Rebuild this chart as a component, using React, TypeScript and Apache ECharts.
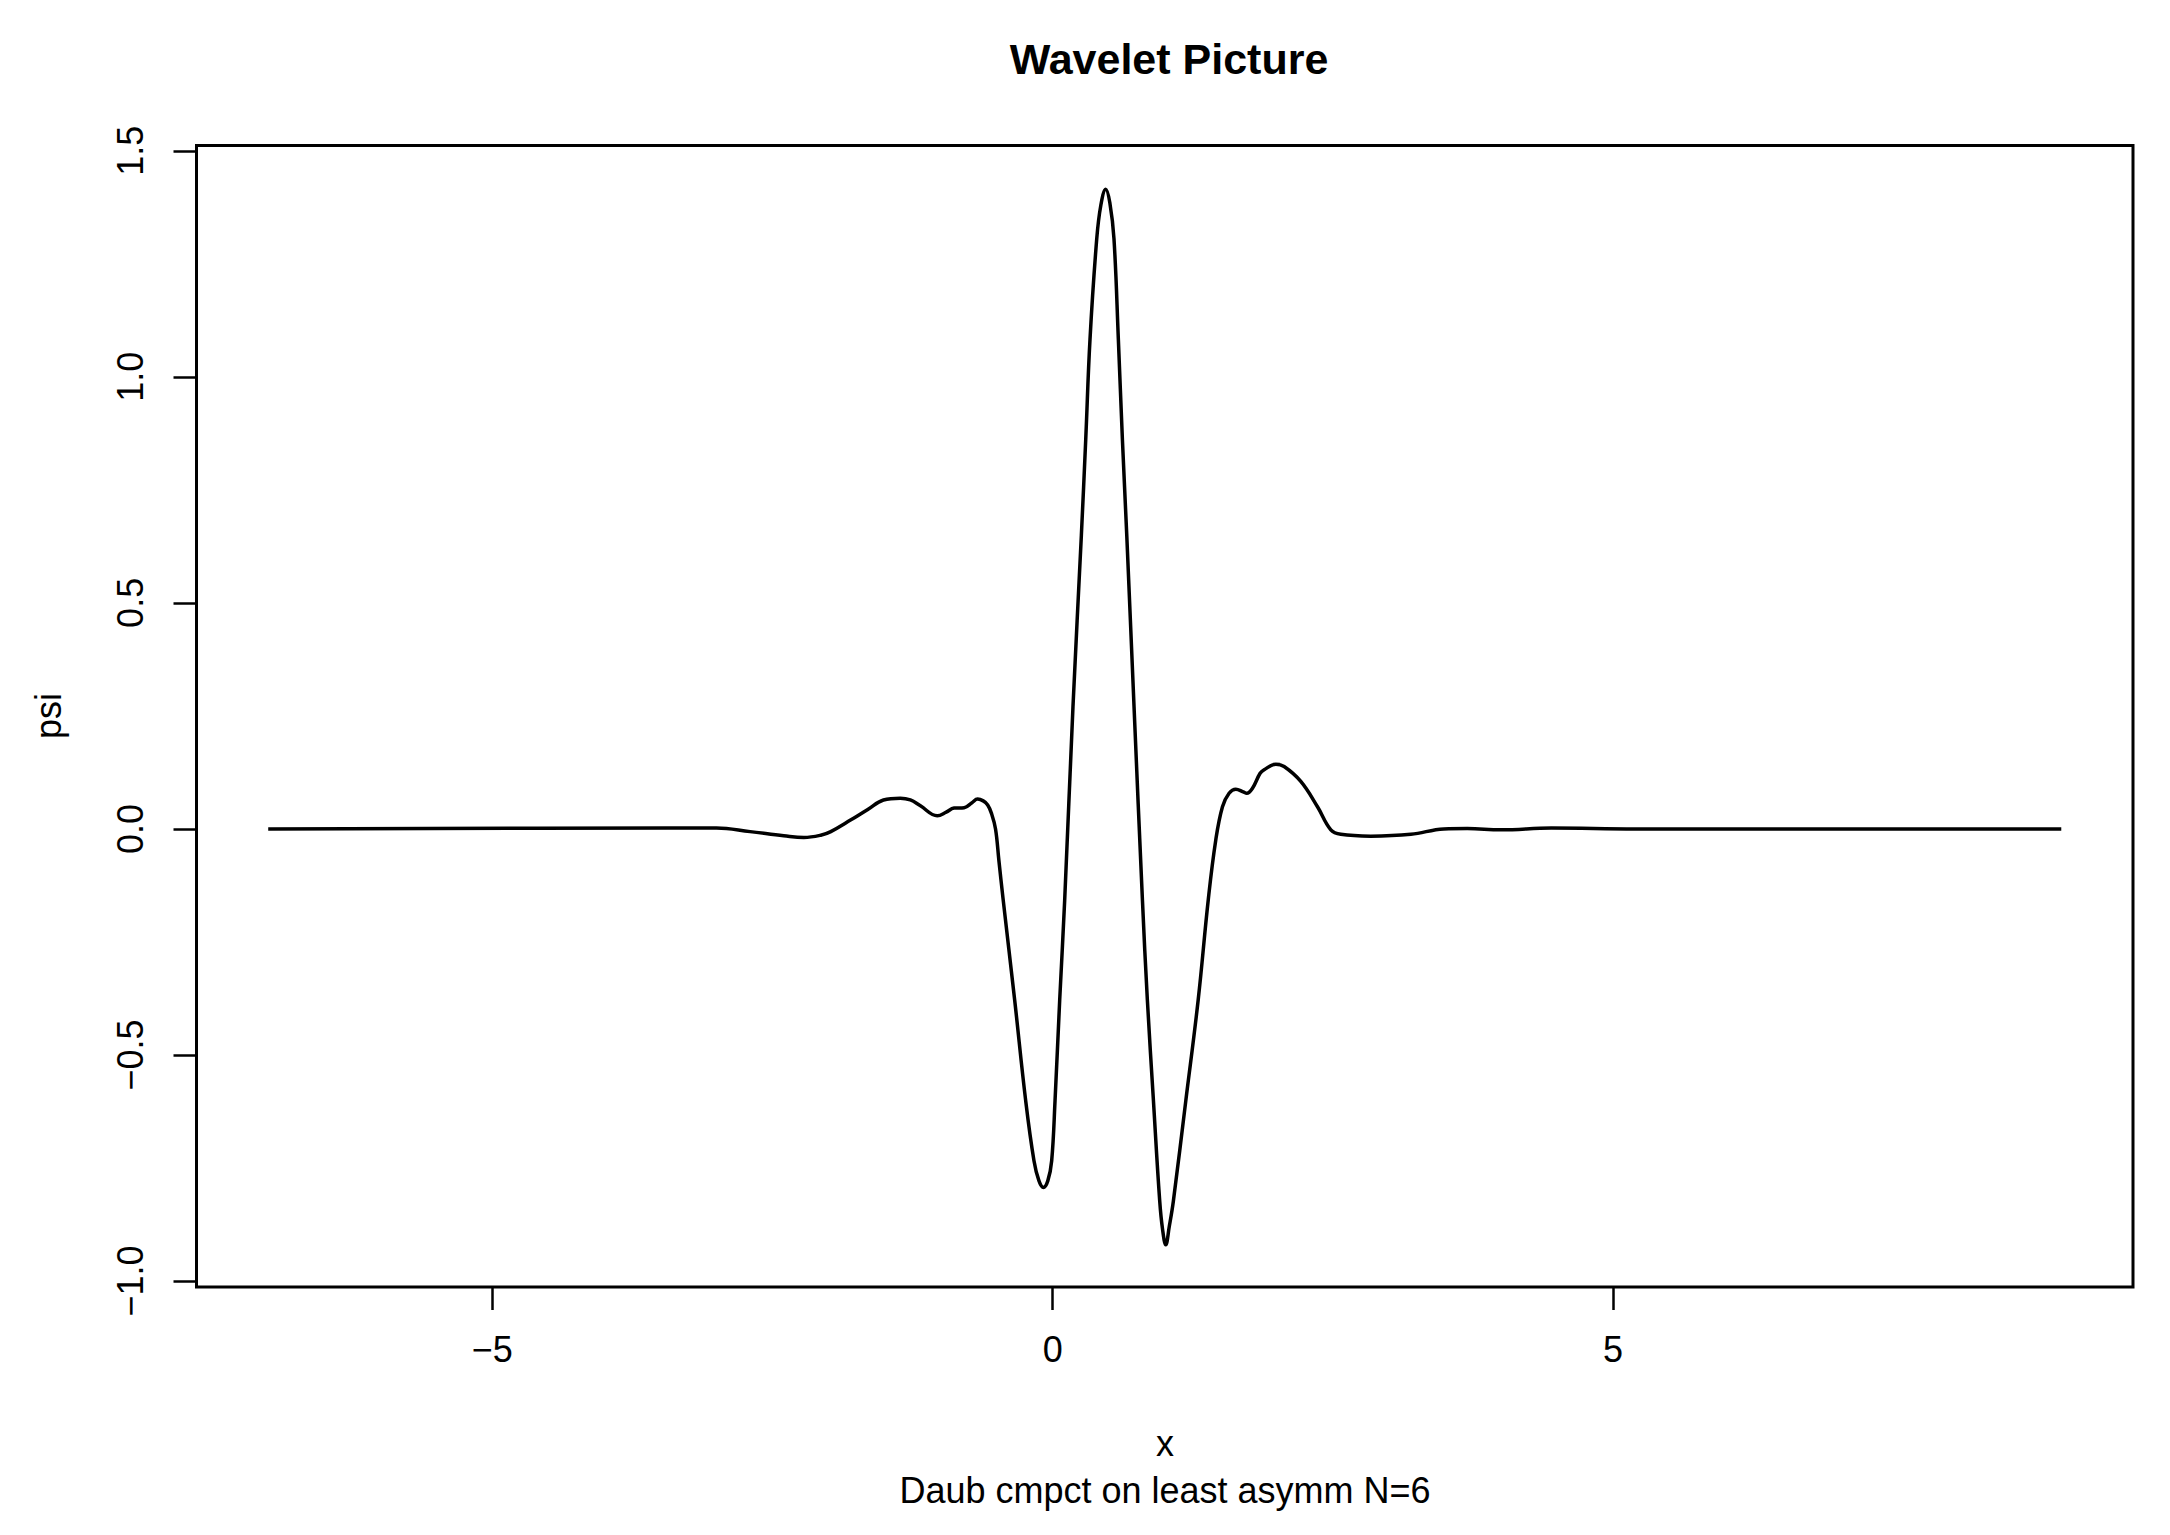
import React, { useEffect, useRef } from "react";
import * as echarts from "echarts";

const xValues = [
  -7.0, -3.44, -3.0, -2.7, -2.4, -2.22, -2.07, -1.98, -1.8, -1.65, -1.51, -1.36, -1.27, -1.18,
  -1.03, -0.95, -0.88, -0.79, -0.72, -0.67, -0.62, -0.58, -0.547, -0.51, -0.48, -0.444,
  -0.339, -0.241, -0.167, -0.123, -0.083, -0.043, -0.009, 0.021, 0.0625, 0.107, 0.181, 0.256,
  0.295, 0.333, 0.393, 0.43, 0.473, 0.51, 0.547, 0.586, 0.622, 0.661, 0.726, 0.801, 0.845,
  0.899, 0.955, 0.98, 1.009, 1.04, 1.077, 1.188, 1.298, 1.389, 1.455, 1.515, 1.574, 1.634,
  1.7, 1.732, 1.783, 1.851, 1.887, 1.991, 2.065, 2.214, 2.363, 2.482, 2.571, 2.839, 3.196,
  3.49, 3.7, 4.0, 4.45, 5.2, 9.0,
];
const psiValues = [
  0.0, 0.002, 0.002, -0.006, -0.015, -0.019, -0.014, -0.006, 0.02, 0.043, 0.064, 0.068, 0.064,
  0.051, 0.029, 0.037, 0.046, 0.047, 0.058, 0.066, 0.062, 0.053, 0.035, 0.0, -0.07, -0.152,
  -0.379, -0.601, -0.734, -0.778, -0.793, -0.778, -0.734, -0.601, -0.379, -0.158, 0.27,
  0.65, 0.862, 1.083, 1.305, 1.38, 1.415, 1.385, 1.305, 1.083, 0.862, 0.65, 0.27, -0.158,
  -0.379, -0.601, -0.823, -0.885, -0.92, -0.88, -0.823, -0.601, -0.379, -0.155, -0.025, 0.049,
  0.079, 0.088, 0.082, 0.079, 0.09, 0.123, 0.131, 0.143, 0.138, 0.105, 0.049, -0.002, -0.012,
  -0.016, -0.012, 0.0, 0.001, -0.002, 0.002, 0.0, 0.0,
];
const xTicks = [-5, 0, 5];
const yTicks = [-1.0, -0.5, 0.0, 0.5, 1.0, 1.5];

const FONT = "'Liberation Sans', Arial, Helvetica, sans-serif";
const minus = (s: string) => s.replace("-", "\u2212");

export default function App() {
  const ref = useRef<HTMLDivElement>(null);
  useEffect(() => {
    if (!ref.current) return;
    const chart = echarts.init(ref.current, undefined, { renderer: "svg" });
    const data = xValues.map((x, i) => [x, psiValues[i]]);
    chart.setOption({
      animation: false,
      backgroundColor: "#ffffff",
      title: {
        text: "Wavelet Picture",
        left: 1164,
        top: 32,
        textAlign: "center",
        textStyle: { fontFamily: FONT, fontSize: 43, fontWeight: "bold", color: "#000" },
      },
      grid: {
        left: 196.5,
        right: 37,
        top: 145.5,
        bottom: 248,
        show: true,
        borderColor: "#000",
        borderWidth: 3,
        containLabel: false,
      },
      xAxis: {
        type: "value",
        min: -7.64,
        max: 9.64,
        axisLine: { show: false, onZero: false },
        splitLine: { show: false },
        axisTick: {
          show: true,
          length: 23,
          lineStyle: { color: "#000", width: 2.5 },
          customValues: xTicks,
        },
        axisLabel: {
          show: true,
          customValues: xTicks,
          margin: 44,
          fontFamily: FONT,
          fontSize: 36,
          color: "#000",
          formatter: (v: number) => minus(String(v)),
        },
      },
      yAxis: {
        type: "value",
        min: -1.0133,
        max: 1.5117,
        axisLine: { show: false, onZero: false },
        splitLine: { show: false },
        axisTick: {
          show: true,
          length: 23,
          lineStyle: { color: "#000", width: 2.5 },
          customValues: yTicks,
        },
        axisLabel: {
          show: true,
          customValues: yTicks,
          rotate: 90,
          margin: 48,
          fontFamily: FONT,
          fontSize: 36,
          color: "#000",
          formatter: (v: number) => minus(v.toFixed(1)),
        },
      },
      graphic: [
        {
          type: "text",
          x: 48,
          y: 716,
          rotation: Math.PI / 2,
          style: {
            text: "psi",
            fontFamily: FONT,
            fontSize: 36,
            fill: "#000",
            align: "center",
            verticalAlign: "middle",
          },
        },
        {
          type: "text",
          x: 1165,
          y: 1443,
          style: {
            text: "x",
            fontFamily: FONT,
            fontSize: 36,
            fill: "#000",
            align: "center",
            verticalAlign: "middle",
          },
        },
        {
          type: "text",
          x: 1165,
          y: 1490,
          style: {
            text: "Daub cmpct on least asymm N=6",
            fontFamily: FONT,
            fontSize: 36,
            fill: "#000",
            align: "center",
            verticalAlign: "middle",
          },
        },
      ],
      series: [
        {
          type: "line",
          data,
          showSymbol: false,
          smooth: 0.4,
          lineStyle: { color: "#000", width: 3.5 },
          silent: true,
        },
      ],
    });
    return () => chart.dispose();
  }, []);
  return (
    <div
      ref={ref}
      style={{ position: "fixed", left: 0, top: 0, width: 2170, height: 1535, background: "#fff" }}
    />
  );
}
